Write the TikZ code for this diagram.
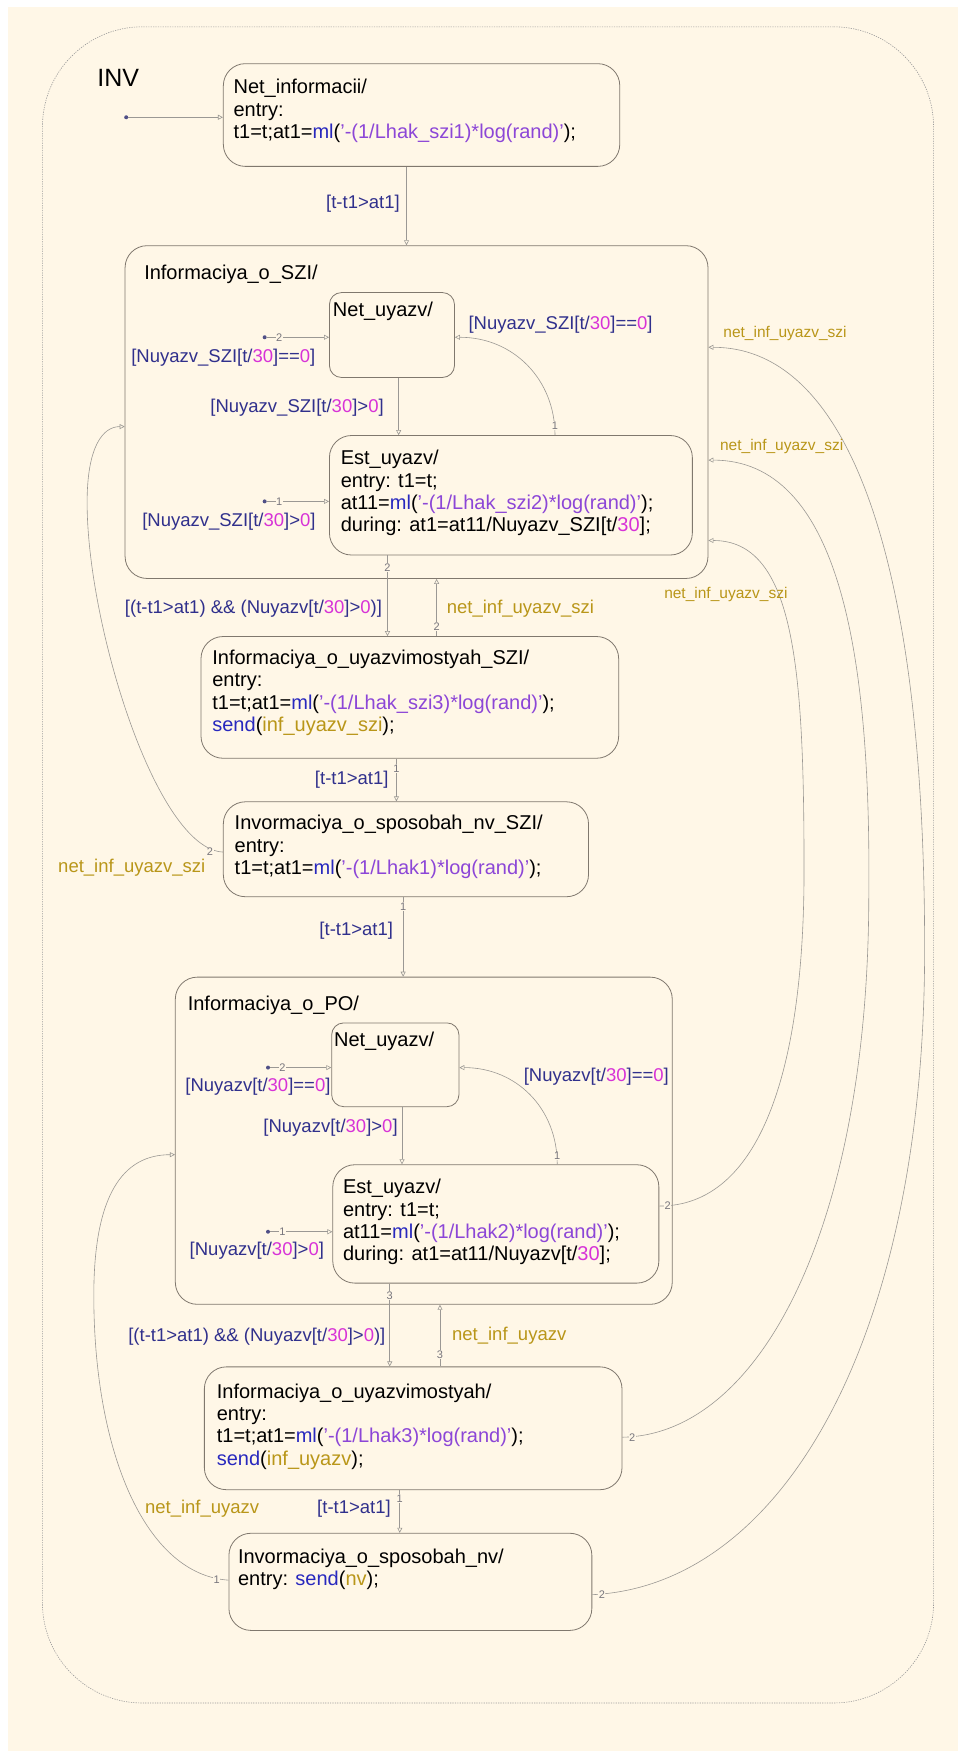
\documentclass[tikz,border=0pt]{standalone}
\usepackage{fontspec}
\setmainfont{Liberation Sans}
\usetikzlibrary{arrows.meta,fit}
\definecolor{bg}{RGB}{255,247,231}
\definecolor{boxc}{RGB}{128,120,110}
\definecolor{trc}{RGB}{155,152,148}
\definecolor{lbl}{RGB}{48,48,140}
\definecolor{num}{RGB}{215,50,215}
\definecolor{strc}{RGB}{140,70,215}
\definecolor{kw}{RGB}{40,40,190}
\definecolor{evt}{RGB}{185,150,25}
\definecolor{ordc}{RGB}{120,118,125}
\newcommand{\stfont}{\fontsize{20}{22.3}\selectfont}
\newcommand{\lbfont}{\fontsize{18.5}{20}\selectfont}
\newcommand{\evsfont}{\fontsize{15.5}{17}\selectfont}
\newcommand{\ordfont}{\fontsize{11}{12}\selectfont}
\newcommand{\invfont}{\fontsize{25}{27}\selectfont}
\newcommand{\apos}{\char"27\relax}
\newcommand{\ml}[1]{\textcolor{kw}{ml}(\textcolor{strc}{\apos-(1/#1)*log(rand)\apos});}
\begin{document}
\begin{tikzpicture}[x=1.1166pt,y=-1.1166pt,
  sbox/.style={draw=boxc, line width=0.8pt, rounded corners=22pt, inner sep=0pt},
  sboxs/.style={draw=boxc, line width=0.8pt, rounded corners=12pt, inner sep=0pt},
  stxt/.style={anchor=north west, inner sep=0pt, align=left, font=\stfont},
  lab/.style={inner sep=0pt, font=\lbfont, text=lbl},
  evl/.style={inner sep=0pt, font=\lbfont, text=evt},
  evs/.style={inner sep=0pt, font=\evsfont, text=evt},
  ord/.style={inner sep=0.5pt, font=\ordfont, text=ordc, fill=bg},
  tr/.style={draw=trc, line width=0.6pt, -{Triangle[open, length=5pt, width=5pt]}},
  dot/.style={circle, fill=lbl!60!gray, inner sep=0pt, minimum size=4pt},
]
\useasboundingbox (0,0) rectangle (858,1568);
\fill[white] (0,0) rectangle (858,1568);
\fill[bg] (7,6) rectangle (858,1568);

% outer chart
\node[draw=gray!80, line width=0.6pt, dash pattern=on 1.2pt off 1.2pt, rounded corners=100pt, inner sep=0pt, fit={(38,24) (836,1525)}] (INV) {};
\node[anchor=west, inner sep=0pt, font=\invfont] (INVl) at (87,70) {INV};

% states
\node[sbox, fit={(200,57) (555,149)}] (S1) {};
\node[stxt] (S1t) at (209,71) {Net\_informacii/\\entry:\\t1=t;at1=\ml{Lhak\_szi1}};

\node[sbox, fit={(112,220) (634,518)}] (SZI) {};
\node[stxt] (SZIt) at (129,237) {Informaciya\_o\_SZI/};
\node[sboxs, fit={(295,262) (407,338)}] (NetS) {};
\node[stxt] (NetSt) at (298,270) {Net\_uyazv/};
\node[sbox, fit={(295,390) (620,497)}] (EstS) {};
\node[stxt] (EstSt) at (305,403) {Est\_uyazv/\\entry: t1=t;\\at11=\ml{Lhak\_szi2}\\during: at1=at11/Nuyazv\_SZI[t/\textcolor{num}{30}];};

\node[sbox, fit={(180,570) (554,679)}] (U1) {};
\node[stxt] (U1t) at (190,582) {Informaciya\_o\_uyazvimostyah\_SZI/\\entry:\\t1=t;at1=\ml{Lhak\_szi3}\\\textcolor{kw}{send}(\textcolor{evt}{inf\_uyazv\_szi});};

\node[sbox, fit={(200,718) (527,803)}] (P1) {};
\node[stxt] (P1t) at (210,730) {Invormaciya\_o\_sposobah\_nv\_SZI/\\entry:\\t1=t;at1=\ml{Lhak1}};

\node[sbox, fit={(157,875) (602,1168)}] (PO) {};
\node[stxt] (POt) at (168,892) {Informaciya\_o\_PO/};
\node[sboxs, fit={(297,916) (411,991)}] (NetP) {};
\node[stxt] (NetPt) at (299,924) {Net\_uyazv/};
\node[sbox, fit={(298,1043) (590,1149)}] (EstP) {};
\node[stxt] (EstPt) at (307,1056) {Est\_uyazv/\\entry: t1=t;\\at11=\ml{Lhak2}\\during: at1=at11/Nuyazv[t/\textcolor{num}{30}];};

\node[sbox, fit={(183,1224) (557,1334)}] (U2) {};
\node[stxt] (U2t) at (194,1239) {Informaciya\_o\_uyazvimostyah/\\entry:\\t1=t;at1=\ml{Lhak3}\\\textcolor{kw}{send}(\textcolor{evt}{inf\_uyazv});};

\node[sbox, fit={(205,1373) (530,1460)}] (N2) {};
\node[stxt] (N2t) at (213,1387) {Invormaciya\_o\_sposobah\_nv/\\entry: \textcolor{kw}{send}(\textcolor{evt}{nv});};

% helper coordinates
\coordinate (vA) at (364,0);
\coordinate (vB) at (347,0);
\coordinate (vC) at (391,0);
\coordinate (vD) at (355,0);
\coordinate (vE) at (361,0);
\coordinate (vF) at (349,0);
\coordinate (vG) at (394,0);
\coordinate (vH) at (358,0);
\coordinate (vI) at (357,0);
\coordinate (vJ) at (360,0);
\coordinate (vK) at (497,0);
\coordinate (vL) at (499,0);
\coordinate (hA) at (0,302);
\coordinate (hB) at (0,956);
\coordinate (hC) at (0,382);
\coordinate (hD) at (0,763);
\coordinate (hE) at (0,1034);
\coordinate (hF) at (0,1415);
\coordinate (hG) at (0,311);
\coordinate (hH) at (0,412);
\coordinate (hI) at (0,484);
\coordinate (hJ) at (0,1428);
\coordinate (hK) at (0,1287);
\coordinate (hL) at (0,1080);
\coordinate (hM) at (0,449);
\coordinate (hN) at (0,1103);
\coordinate (hO) at (0,105);

% default transitions
\node[dot] (d0) at (113,105) {};
\draw[tr] (d0) -- (S1.west |- hO);
\node[dot] (d1) at (237,302) {};
\draw[tr] (d1) -- (NetS.west |- hA);
\node[dot] (d2) at (237,449) {};
\draw[tr] (d2) -- (EstS.west |- hM);
\node[dot] (d3) at (240,956) {};
\draw[tr] (d3) -- (NetP.west |- hB);
\node[dot] (d4) at (240,1103) {};
\draw[tr] (d4) -- (EstP.west |- hN);

% vertical transitions
\draw[tr] (S1.south -| vA) -- (SZI.north -| vA);
\draw[tr] (NetS.south -| vI) -- (EstS.north -| vI);
\draw[tr] (EstS.south -| vB) -- (U1.north -| vB);
\draw[tr] (U1.north -| vC) -- (SZI.south -| vC);
\draw[tr] (U1.south -| vD) -- (P1.north -| vD);
\draw[tr] (P1.south -| vE) -- (PO.north -| vE);
\draw[tr] (NetP.south -| vJ) -- (EstP.north -| vJ);
\draw[tr] (EstP.south -| vF) -- (U2.north -| vF);
\draw[tr] (U2.north -| vG) -- (PO.south -| vG);
\draw[tr] (U2.south -| vH) -- (N2.north -| vH);

% inner curved transitions
\draw[tr] (EstS.north -| vK) .. controls (497,340) and (460,302) .. (NetS.east |- hA);
\draw[tr] (EstP.north -| vL) .. controls (499,992) and (462,956) .. (NetP.east |- hB);

% left curves
\draw[tr] (P1.west |- hD) .. controls (140,760) and (78,560) .. (78,450) .. controls (78,400) and (92,382) .. (SZI.west |- hC);
\draw[tr] (N2.west |- hF) .. controls (130,1410) and (84,1300) .. (84,1160) .. controls (84,1070) and (110,1034) .. (PO.west |- hE);

% right curves
\draw[tr] (N2.east |- hJ) .. controls (700,1420) and (828,1200) .. (828,850) .. controls (828,500) and (760,311) .. (SZI.east |- hG);
\draw[tr] (U2.east |- hK) .. controls (680,1285) and (778,1100) .. (778,800) .. controls (780,580) and (750,412) .. (SZI.east |- hH);
\draw[tr] (EstP.east |- hL) .. controls (680,1080) and (720,960) .. (720,780) .. controls (720,600) and (712,484) .. (SZI.east |- hI);

% execution order numbers
\node[ord] (o1) at (250,302) {2};
\node[ord] (o2) at (250,449) {1};
\node[ord] (o3) at (253,956) {2};
\node[ord] (o4) at (253,1103) {1};
\node[ord] (o5) at (497,381) {1};
\node[ord] (o6) at (499,1035) {1};
\node[ord] (o7) at (347,508) {2};
\node[ord] (o8) at (391,561) {2};
\node[ord] (o9) at (355,688) {1};
\node[ord] (o10) at (361,812) {1};
\node[ord] (o11) at (349,1160) {3};
\node[ord] (o12) at (394,1213) {3};
\node[ord] (o13) at (358,1342) {1};
\node[ord] (o14) at (188,763) {2};
\node[ord] (o15) at (194,1415) {1};
\node[ord] (o16) at (539,1428) {2};
\node[ord] (o17) at (566,1287) {2};
\node[ord] (o18) at (598,1080) {2};

% transition labels
\node[lab] (l1) at (325,182) {[t-t1>at1]};
\node[lab] (l2) at (200,320) {[Nuyazv\_SZI[t/\textcolor{num}{30}]==\textcolor{num}{0}]};
\node[lab] (l3) at (266,365) {[Nuyazv\_SZI[t/\textcolor{num}{30}]>\textcolor{num}{0}]};
\node[lab] (l4) at (502,291) {[Nuyazv\_SZI[t/\textcolor{num}{30}]==\textcolor{num}{0}]};
\node[lab] (l5) at (205,467) {[Nuyazv\_SZI[t/\textcolor{num}{30}]>\textcolor{num}{0}]};
\node[lab] (l6) at (227,545) {[(t-t1>at1) \&\& (Nuyazv[t/\textcolor{num}{30}]>\textcolor{num}{0})]};
\node[evl] (l7) at (466,545) {net\_inf\_uyazv\_szi};
\node[lab] (l8) at (315,698) {[t-t1>at1]};
\node[evl] (l9) at (118,777) {net\_inf\_uyazv\_szi};
\node[lab] (l10) at (319,833) {[t-t1>at1]};
\node[lab] (l11) at (231,973) {[Nuyazv[t/\textcolor{num}{30}]==\textcolor{num}{0}]};
\node[lab] (l12) at (296,1010) {[Nuyazv[t/\textcolor{num}{30}]>\textcolor{num}{0}]};
\node[lab] (l13) at (534,964) {[Nuyazv[t/\textcolor{num}{30}]==\textcolor{num}{0}]};
\node[lab] (l14) at (230,1120) {[Nuyazv[t/\textcolor{num}{30}]>\textcolor{num}{0}]};
\node[lab] (l15) at (230,1197) {[(t-t1>at1) \&\& (Nuyazv[t/\textcolor{num}{30}]>\textcolor{num}{0})]};
\node[evl] (l16) at (456,1196) {net\_inf\_uyazv};
\node[lab] (l17) at (317,1351) {[t-t1>at1]};
\node[evl] (l18) at (181,1351) {net\_inf\_uyazv};
\node[evs] (l19) at (703,299) {net\_inf\_uyazv\_szi};
\node[evs] (l20) at (700,400) {net\_inf\_uyazv\_szi};
\node[evs] (l21) at (650,532) {net\_inf\_uyazv\_szi};
\end{tikzpicture}
\end{document}
